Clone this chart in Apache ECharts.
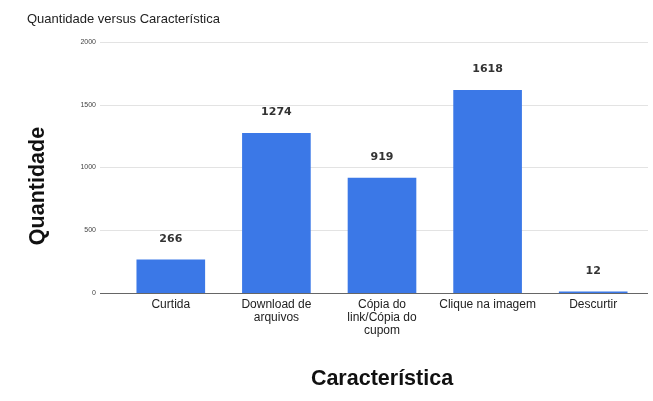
<!DOCTYPE html>
<html><head><meta charset="utf-8">
<script src="https://cdn.jsdelivr.net/npm/echarts@6/dist/echarts.min.js"></script>
<style>html,body{margin:0;padding:0;background:#fff}#c{width:653px;height:401px}</style>
</head><body><div id="c"></div>
<script>
const categories = ['Curtida', 'Download de arquivos', 'Cópia do link/Cópia do cupom', 'Clique na imagem', 'Descurtir'];
const categoryLabels = ['Curtida', 'Download de\narquivos', 'Cópia do\nlink/Cópia do\ncupom', 'Clique na imagem', 'Descurtir'];
const quantities = [266, 1274, 919, 1618, 12];
const yTicks = [0, 500, 1000, 1500, 2000];

const chart = echarts.init(document.getElementById('c'), null, {renderer: 'canvas'});
const font = 'Liberation Sans, Arial, sans-serif';
chart.setOption({
  animation: false,
  title: {text: 'Quantidade versus Característica', left: 22, top: 8,
    textStyle: {fontFamily: font, fontSize: 13, fontWeight: 'normal', color: '#222'}},
  graphic: [{type: 'text', x: 38, y: 186, rotation: Math.PI / 2,
    style: {text: 'Quantidade', fontFamily: font, fontSize: 21.5, fontWeight: 'bold', fill: '#111',
      align: 'center', verticalAlign: 'middle'}}],
  grid: [
    {left: 100, right: 5, top: 42, bottom: 108},
    {left: 118, right: 7, top: 42, bottom: 108}
  ],
  xAxis: [
    {gridIndex: 0, type: 'category', data: categories, show: false},
    {gridIndex: 1, type: 'category', data: categories,
      axisLine: {show: false}, axisTick: {show: false},
      axisLabel: {fontFamily: font, fontSize: 12, color: '#222', margin: 5, lineHeight: 13, interval: 0,
        formatter: (v, i) => categoryLabels[i]},
      name: 'Característica', nameLocation: 'middle', nameGap: 75,
      nameTextStyle: {fontFamily: font, fontSize: 21.5, fontWeight: 'bold', color: '#111'}}
  ],
  yAxis: [
    {gridIndex: 0, type: 'value', min: yTicks[0], max: yTicks[yTicks.length-1], interval: 500,
      axisLine: {show: false}, axisTick: {show: false},
      axisLabel: {fontFamily: font, fontSize: 7, color: '#444', margin: 4, formatter: v => String(v)},
      splitLine: {lineStyle: {color: '#e3e3e3', width: 1}}},
    {gridIndex: 1, type: 'value', min: 0, max: 2000, show: false}
  ],
  series: [
    {type: 'line', xAxisIndex: 0, yAxisIndex: 0, data: [], silent: true,
      markLine: {silent: true, symbol: 'none', label: {show: false},
        lineStyle: {color: '#666', type: 'solid', width: 1}, data: [{yAxis: 0}]}},
    {type: 'bar', xAxisIndex: 1, yAxisIndex: 1, data: quantities, barCategoryGap: '35%',
      itemStyle: {color: '#3b78e7'},
      label: {show: true, position: 'top', distance: 15, fontFamily: 'DejaVu Sans, sans-serif',
        fontSize: 11, fontWeight: 'bold', color: '#333'}}
  ]
});
</script></body></html>
